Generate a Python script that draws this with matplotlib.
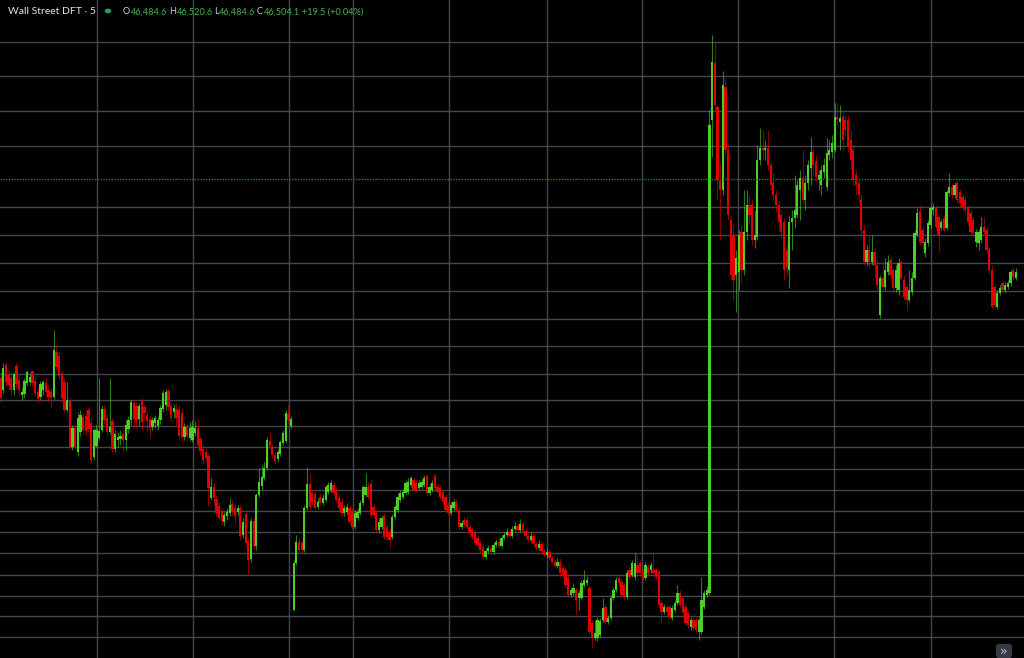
import numpy as np
import matplotlib
matplotlib.use("Agg")
import matplotlib.pyplot as plt
from matplotlib.patches import FancyBboxPatch

# 5-minute candles
opens = [
    46622, 46610, 46635, 46625, 46622, 46610, 46634, 46620, 46605, 46606,
    46617, 46618, 46629, 46619, 46608, 46603, 46610, 46617, 46610, 46608,
    46603, 46648, 46644, 46627, 46618, 46590, 46599, 46553, 46572, 46548,
    46568, 46583, 46584, 46590, 46577, 46543, 46554, 46562, 46570, 46591,
    46582, 46568, 46579, 46551, 46560, 46561, 46566, 46560, 46571, 46580,
    46597, 46594, 46581, 46599, 46593, 46585, 46581, 46573, 46577, 46574,
    46580, 46591, 46595, 46609, 46594, 46588, 46591, 46590, 46587, 46563,
    46573, 46562, 46560, 46567, 46572, 46561, 46551, 46548, 46544, 46502,
    46513, 46501, 46494, 46488, 46478, 46484, 46487, 46496, 46492, 46488,
    46492, 46465, 46486, 46459, 46441, 46479, 46454, 46505, 46514, 46522,
    46532, 46559, 46553, 46545, 46541, 46546, 46557, 46559, 46586, 46574,
    46390, 46437, 46458, 46457, 46450, 46492, 46516, 46507, 46506, 46493,
    46503, 46497, 46500, 46508, 46510, 46515, 46510, 46502, 46498, 46487,
    46488, 46492, 46489, 46473, 46482, 46487, 46497, 46505, 46513, 46516,
    46493, 46487, 46470, 46473, 46484, 46473, 46468, 46463, 46483, 46490,
    46500, 46503, 46507, 46508, 46515, 46520, 46517, 46512, 46513, 46515,
    46524, 46507, 46510, 46524, 46513, 46512, 46508, 46503, 46495, 46487,
    46492, 46498, 46490, 46473, 46480, 46480, 46473, 46470, 46467, 46462,
    46457, 46453, 46443, 46449, 46452, 46448, 46455, 46458, 46454, 46462,
    46465, 46468, 46464, 46471, 46474, 46470, 46476, 46469, 46464, 46460,
    46464, 46456, 46452, 46456, 46449, 46445, 46448, 46442, 46438, 46434,
    46438, 46432, 46430, 46422, 46405, 46407, 46410, 46402, 46402, 46415,
    46417, 46412, 46377, 46362, 46362, 46365, 46380, 46393, 46378, 46382,
    46402, 46410, 46422, 46418, 46415, 46403, 46430, 46425, 46423, 46435,
    46437, 46428, 46422, 46433, 46430, 46430, 46430, 46428, 46397, 46388,
    46393, 46393, 46382, 46390, 46397, 46407, 46402, 46393, 46387, 46373,
    46380, 46380, 46368, 46368, 46393, 46405, 46407, 46880, 46937, 46893,
    46820, 46810, 46913, 46850, 46780, 46765, 46725, 46728, 46768, 46730,
    46768, 46795, 46795, 46760, 46763, 46840, 46852, 46850, 46852, 46835,
    46817, 46805, 46795, 46785, 46778, 46750, 46730, 46778, 46782, 46785,
    46810, 46822, 46800, 46817, 46832, 46848, 46838, 46820, 46815, 46828,
    46813, 46845, 46848, 46850, 46883, 46878, 46883, 46880, 46880, 46860,
    46850, 46825, 46817, 46800, 46770, 46738, 46750, 46738, 46748, 46735,
    46685, 46722, 46713, 46728, 46740, 46730, 46712, 46710, 46738, 46720,
    46713, 46700, 46708, 46722, 46765, 46788, 46770, 46747, 46757, 46775,
    46790, 46792, 46783, 46772, 46782, 46772, 46807, 46813, 46805, 46817,
    46808, 46803, 46800, 46792, 46787, 46780, 46758, 46757, 46760, 46773,
    46770, 46750, 46730, 46713, 46693, 46707, 46717, 46710, 46713, 46717,
    46730, 46722,
]
closes = [
    46602, 46632, 46618, 46615, 46610, 46626, 46616, 46610, 46608, 46619,
    46628, 46623, 46617, 46607, 46601, 46616, 46618, 46608, 46603, 46602,
    46650, 46633, 46624, 46602, 46590, 46600, 46553, 46572, 46554, 46582,
    46585, 46570, 46569, 46571, 46540, 46570, 46570, 46569, 46591, 46580,
    46568, 46573, 46551, 46566, 46563, 46564, 46560, 46575, 46580, 46598,
    46581, 46580, 46594, 46578, 46587, 46579, 46572, 46580, 46582, 46580,
    46592, 46607, 46608, 46593, 46582, 46592, 46582, 46564, 46563, 46573,
    46564, 46572, 46573, 46572, 46555, 46549, 46540, 46542, 46512, 46513,
    46502, 46487, 46482, 46479, 46485, 46488, 46495, 46488, 46484, 46492,
    46464, 46478, 46457, 46440, 46479, 46454, 46505, 46518, 46523, 46532,
    46560, 46554, 46545, 46539, 46548, 46558, 46567, 46587, 46580, 46581,
    46437, 46458, 46450, 46450, 46492, 46516, 46493, 46498, 46492, 46498,
    46497, 46502, 46513, 46515, 46517, 46507, 46500, 46492, 46487, 46492,
    46493, 46478, 46473, 46487, 46488, 46497, 46513, 46513, 46503, 46485,
    46485, 46470, 46478, 46482, 46463, 46463, 46460, 46483, 46493, 46503,
    46507, 46508, 46517, 46518, 46522, 46510, 46510, 46517, 46518, 46522,
    46507, 46513, 46517, 46512, 46508, 46503, 46498, 46490, 46487, 46495,
    46498, 46490, 46473, 46477, 46475, 46473, 46467, 46463, 46457, 46455,
    46450, 46443, 46449, 46452, 46448, 46455, 46458, 46454, 46462, 46465,
    46468, 46464, 46471, 46474, 46470, 46476, 46469, 46464, 46460, 46464,
    46456, 46452, 46456, 46449, 46445, 46448, 46442, 46438, 46434, 46438,
    46427, 46425, 46415, 46405, 46410, 46412, 46400, 46407, 46417, 46420,
    46420, 46368, 46363, 46367, 46380, 46379, 46392, 46378, 46382, 46402,
    46410, 46420, 46417, 46405, 46403, 46427, 46423, 46437, 46437, 46427,
    46427, 46420, 46435, 46427, 46435, 46427, 46423, 46395, 46388, 46393,
    46388, 46383, 46392, 46397, 46407, 46395, 46388, 46377, 46375, 46380,
    46372, 46370, 46380, 46400, 46407, 46410, 46875, 46938, 46895, 46820,
    46810, 46915, 46850, 46785, 46725, 46720, 46742, 46765, 46730, 46768,
    46795, 46785, 46760, 46765, 46840, 46852, 46850, 46852, 46835, 46815,
    46805, 46795, 46778, 46768, 46730, 46732, 46778, 46782, 46790, 46815,
    46822, 46800, 46817, 46835, 46848, 46835, 46823, 46825, 46830, 46835,
    46847, 46850, 46857, 46883, 46880, 46882, 46860, 46870, 46853, 46840,
    46820, 46815, 46805, 46770, 46738, 46750, 46738, 46748, 46735, 46715,
    46722, 46713, 46730, 46738, 46725, 46712, 46730, 46737, 46722, 46703,
    46700, 46710, 46722, 46767, 46787, 46758, 46757, 46758, 46777, 46792,
    46793, 46773, 46765, 46778, 46770, 46808, 46813, 46805, 46815, 46800,
    46797, 46792, 46790, 46778, 46768, 46767, 46768, 46768, 46773, 46768,
    46750, 46730, 46693, 46695, 46707, 46712, 46710, 46715, 46717, 46728,
    46723, 46728,
]
highs = [
    46628, 46637, 46638, 46630, 46628, 46628, 46637, 46625, 46612, 46622,
    46630, 46627, 46630, 46623, 46612, 46619, 46620, 46622, 46615, 46612,
    46670, 46655, 46648, 46630, 46622, 46618, 46602, 46575, 46576, 46588,
    46590, 46587, 46590, 46593, 46582, 46572, 46575, 46622, 46595, 46595,
    46586, 46622, 46582, 46570, 46568, 46570, 46572, 46580, 46584, 46600,
    46600, 46598, 46597, 46602, 46596, 46590, 46585, 46583, 46585, 46584,
    46595, 46610, 46611, 46612, 46598, 46596, 46597, 46595, 46592, 46577,
    46576, 46578, 46580, 46579, 46581, 46564, 46555, 46552, 46547, 46522,
    46517, 46505, 46498, 46492, 46488, 46492, 46502, 46500, 46497, 46495,
    46495, 46482, 46487, 46463, 46482, 46482, 46507, 46532, 46535, 46538,
    46563, 46568, 46556, 46548, 46551, 46560, 46570, 46590, 46595, 46584,
    46440, 46465, 46462, 46460, 46495, 46533, 46527, 46510, 46510, 46502,
    46506, 46506, 46515, 46518, 46520, 46518, 46513, 46505, 46502, 46495,
    46497, 46495, 46492, 46490, 46492, 46500, 46515, 46527, 46518, 46520,
    46496, 46490, 46482, 46485, 46487, 46476, 46472, 46486, 46495, 46507,
    46510, 46511, 46520, 46522, 46524, 46523, 46520, 46520, 46521, 46525,
    46526, 46516, 46520, 46527, 46516, 46515, 46511, 46506, 46498, 46498,
    46501, 46501, 46493, 46480, 46483, 46483, 46476, 46473, 46470, 46465,
    46460, 46456, 46452, 46455, 46455, 46458, 46461, 46461, 46465, 46468,
    46472, 46471, 46474, 46478, 46477, 46481, 46479, 46472, 46467, 46468,
    46467, 46459, 46460, 46459, 46452, 46451, 46451, 46445, 46441, 46442,
    46442, 46435, 46433, 46425, 46413, 46417, 46413, 46410, 46420, 46430,
    46424, 46415, 46380, 46380, 46383, 46382, 46402, 46396, 46385, 46405,
    46413, 46423, 46425, 46421, 46418, 46430, 46433, 46440, 46447, 46445,
    46440, 46431, 46438, 46436, 46438, 46448, 46433, 46431, 46400, 46396,
    46396, 46396, 46395, 46400, 46415, 46410, 46405, 46396, 46390, 46383,
    46383, 46383, 46383, 46423, 46410, 46414, 46890, 46965, 46958, 46895,
    46837, 46929, 46922, 46855, 46785, 46775, 46750, 46770, 46775, 46810,
    46810, 46805, 46800, 46790, 46855, 46872, 46870, 46860, 46870, 46838,
    46828, 46810, 46800, 46790, 46782, 46755, 46785, 46790, 46825, 46820,
    46830, 46850, 46825, 46840, 46863, 46852, 46845, 46830, 46835, 46842,
    46862, 46860, 46865, 46897, 46897, 46895, 46888, 46885, 46885, 46870,
    46855, 46830, 46822, 46805, 46775, 46755, 46765, 46765, 46752, 46740,
    46725, 46738, 46742, 46745, 46743, 46732, 46735, 46742, 46740, 46725,
    46716, 46730, 46728, 46770, 46792, 46795, 46773, 46762, 46780, 46795,
    46797, 46795, 46786, 46781, 46785, 46810, 46827, 46817, 46818, 46820,
    46811, 46806, 46803, 46795, 46790, 46783, 46771, 46771, 46783, 46783,
    46773, 46753, 46735, 46716, 46710, 46715, 46720, 46718, 46720, 46730,
    46732, 46732,
]
lows = [
    46598, 46607, 46614, 46610, 46604, 46605, 46611, 46605, 46600, 46602,
    46614, 46615, 46614, 46604, 46597, 46600, 46605, 46603, 46598, 46593,
    46601, 46630, 46620, 46598, 46588, 46588, 46551, 46550, 46550, 46544,
    46564, 46566, 46565, 46568, 46537, 46540, 46552, 46560, 46568, 46576,
    46564, 46566, 46548, 46548, 46553, 46555, 46548, 46550, 46567, 46575,
    46572, 46572, 46574, 46570, 46580, 46569, 46563, 46570, 46572, 46570,
    46576, 46588, 46590, 46590, 46578, 46582, 46575, 46560, 46558, 46560,
    46560, 46559, 46558, 46564, 46553, 46545, 46537, 46538, 46494, 46500,
    46495, 46484, 46480, 46475, 46474, 46480, 46484, 46484, 46477, 46485,
    46460, 46462, 46454, 46426, 46438, 46451, 46450, 46503, 46510, 46520,
    46530, 46551, 46542, 46537, 46539, 46544, 46555, 46557, 46577, 46572,
    46389, 46435, 46448, 46447, 46448, 46490, 46491, 46495, 46490, 46491,
    46494, 46495, 46498, 46506, 46508, 46505, 46498, 46490, 46485, 46484,
    46486, 46476, 46471, 46471, 46480, 46485, 46495, 46503, 46501, 46483,
    46482, 46467, 46467, 46471, 46461, 46460, 46453, 46461, 46481, 46488,
    46498, 46501, 46505, 46506, 46513, 46508, 46508, 46510, 46511, 46513,
    46505, 46505, 46508, 46510, 46506, 46501, 46496, 46488, 46485, 46485,
    46490, 46488, 46471, 46471, 46473, 46471, 46465, 46461, 46455, 46453,
    46448, 46441, 46441, 46447, 46445, 46446, 46453, 46452, 46452, 46460,
    46463, 46462, 46462, 46469, 46468, 46468, 46467, 46462, 46458, 46458,
    46454, 46450, 46450, 46447, 46443, 46443, 46440, 46436, 46432, 46432,
    46424, 46422, 46412, 46403, 46403, 46405, 46385, 46390, 46400, 46413,
    46415, 46366, 46353, 46360, 46359, 46363, 46378, 46376, 46376, 46380,
    46400, 46408, 46414, 46402, 46400, 46401, 46420, 46423, 46420, 46424,
    46424, 46417, 46420, 46424, 46427, 46424, 46420, 46393, 46377, 46386,
    46385, 46381, 46380, 46388, 46395, 46393, 46385, 46375, 46372, 46370,
    46369, 46368, 46360, 46366, 46391, 46403, 46405, 46843, 46890, 46800,
    46760, 46805, 46845, 46780, 46720, 46700, 46688, 46710, 46718, 46725,
    46760, 46775, 46755, 46752, 46760, 46835, 46840, 46840, 46830, 46810,
    46800, 46788, 46770, 46762, 46720, 46725, 46712, 46750, 46772, 46782,
    46780, 46795, 46790, 46810, 46815, 46825, 46818, 46810, 46805, 46822,
    46810, 46840, 46842, 46848, 46875, 46850, 46850, 46865, 46848, 46830,
    46815, 46805, 46797, 46765, 46735, 46735, 46732, 46735, 46722, 46710,
    46682, 46710, 46710, 46725, 46722, 46708, 46708, 46705, 46720, 46700,
    46690, 46698, 46705, 46720, 46763, 46755, 46750, 46743, 46754, 46772,
    46785, 46770, 46748, 46770, 46768, 46770, 46804, 46802, 46802, 46797,
    46794, 46790, 46787, 46775, 46765, 46763, 46753, 46750, 46757, 46765,
    46747, 46727, 46692, 46693, 46691, 46705, 46708, 46708, 46711, 46714,
    46720, 46720,
]

grid_prices = [46958, 46924, 46889, 46854, 46793, 46765, 46737, 46709, 46681,
               46654, 46626, 46600, 46574, 46553, 46531, 46510, 46489, 46468,
               46447, 46425, 46404, 46384, 46363]
grid_bars = [36.2, 72.2, 108.25, 132.3, 168.3, 205.1, 240.7, 276.7, 312.8, 349.2]
ref_price = 46821

symbol = "Wall Street DFT · 5"
ohlc_keys = ["O", "H", "L", "C"]
ohlc_vals = ["46,484.6", "46,520.6", "46,484.6", "46,504.1"]
change = "+19.5 (+0.04%)"

UP = "#4ccf26"
DOWN = "#e00000"
W, H = 1024, 658

o = np.array(opens, dtype=float)
c = np.array(closes, dtype=float)
h = np.array(highs, dtype=float)
l = np.array(lows, dtype=float)
idx = np.arange(len(o))
colors = np.where(c >= o, UP, DOWN)

fig = plt.figure(figsize=(W / 100, H / 100), dpi=100, facecolor="black")
ax = fig.add_axes([0, 0, 1, 1])
ax.set_facecolor("black")

ax.set_xticks(grid_bars)
ax.set_yticks(grid_prices)
ax.grid(True, color="#46464e", linewidth=1)
ax.set_axisbelow(True)
ax.tick_params(length=0, labelbottom=False, labelleft=False)
for s in ax.spines.values():
    s.set_visible(False)

ax.axhline(ref_price, color="#1f801f", linewidth=1, linestyle=(0, (1, 1)))

ax.vlines(idx, l, h, colors=colors, linewidth=0.8, alpha=0.6)
body_lo = np.minimum(o, c)
body_h = np.maximum(np.abs(c - o), 1.2)
ax.bar(idx, body_h, bottom=body_lo, width=0.85, color=colors, linewidth=0)

ax.set_xlim(-0.19, 384.05)
ax.set_ylim(46342, 47000)

# legend line at the top
def px(x, y):
    return x / W, 1 - y / H

fig.text(*px(8, 12), symbol, color="#e0e3ea", family="Lato", fontsize=7.5, va="center")
fig.patches.append(plt.Circle(px(108, 11), 2.6 / W, transform=fig.transFigure,
                              color="#2a9d5c"))

renderer = fig.canvas.get_renderer()
fnt = dict(family="Lato", fontsize=6.6, va="center")
key_x = [123, 169, 214, 257]
for x, k, v in zip(key_x, ohlc_keys, ohlc_vals):
    t = fig.text(*px(x, 12), k, color="#d1d4dc", **fnt)
    w = t.get_window_extent(renderer).width
    fig.text(*px(x + w + 0.5, 12), v, color="#4caf50", **fnt)
fig.text(*px(302, 12), change, color="#4caf50", **fnt)

# scroll button bottom right
btn = FancyBboxPatch(px(996, 658), 16 / W, 14 / H, boxstyle="round,pad=0,rounding_size=0.003",
                     transform=fig.transFigure, facecolor="#363a45", edgecolor="none")
fig.patches.append(btn)
fig.text(*px(1004, 651), "»", color="#c0c3cc", fontsize=9, ha="center", va="center")

fig.savefig("out.png", dpi=100, facecolor="black")
